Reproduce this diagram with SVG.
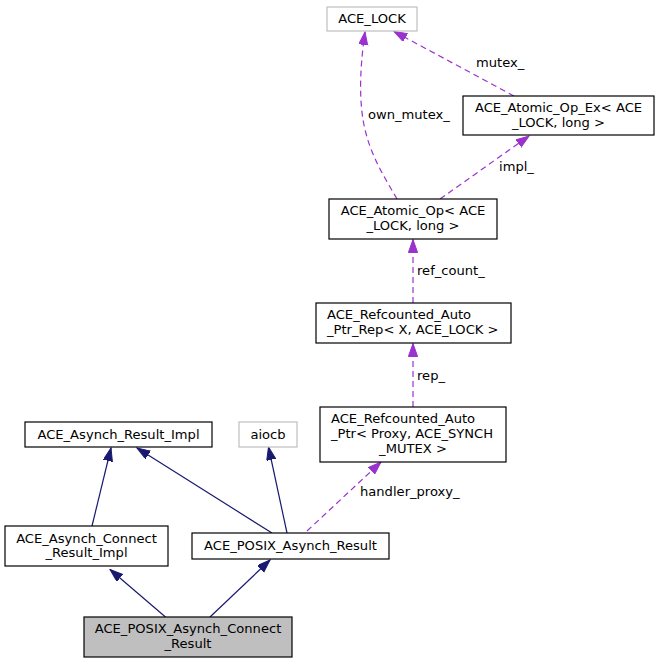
<svg xmlns="http://www.w3.org/2000/svg" width="659" height="663" viewBox="0 0 659 663">
<style>
.n rect{fill:#ffffff;stroke:#000000;stroke-width:1.2}
.g rect{fill:#ffffff;stroke:#bfbfbf;stroke-width:1.2}
.m rect{fill:#bfbfbf;stroke:#000000;stroke-width:1.2}
text{font-family:"DejaVu Sans","Liberation Sans",sans-serif;font-size:13.1px;fill:#000000}
.c{text-anchor:middle}
.inh{fill:none;stroke:#191970;stroke-width:1.2}
.use{fill:none;stroke:#9a32cd;stroke-width:1.2;stroke-dasharray:6,4}
</style>
<defs>
<marker id="ah" markerUnits="userSpaceOnUse" markerWidth="14" markerHeight="10" refX="13" refY="4.6" orient="auto">
<path d="M0,0 L13,4.6 L0,9.2 Z" fill="#191970" stroke="#191970" stroke-width="1"/>
</marker>
<marker id="ap" markerUnits="userSpaceOnUse" markerWidth="14" markerHeight="10" refX="13" refY="4.6" orient="auto">
<path d="M0,0 L13,4.6 L0,9.2 Z" fill="#9a32cd" stroke="#9a32cd" stroke-width="1"/>
</marker>
</defs>
<rect width="659" height="663" fill="#ffffff"/>
<g id="connectors">
<path class="inh" d="M92,526 L111,448" marker-end="url(#ah)"/>
<path class="inh" d="M272,533 L137,448" marker-end="url(#ah)"/>
<path class="inh" d="M287,533 L268.5,447" marker-end="url(#ah)"/>
<path class="inh" d="M165.5,617 L110,569.5" marker-end="url(#ah)"/>
<path class="inh" d="M210,617 L270,560" marker-end="url(#ah)"/>
<path class="use" d="M307,531 L381,462" marker-end="url(#ap)"/>
<text x="360" y="496">handler_proxy_</text>
<path class="use" d="M413,407 L413,343.5" marker-end="url(#ap)"/>
<text x="417" y="380">rep_</text>
<path class="use" d="M413,303 L413,239.5" marker-end="url(#ap)"/>
<text x="417" y="275">ref_count_</text>
<path class="use" d="M440,199 L529,136" marker-end="url(#ap)"/>
<text x="499" y="171">impl_</text>
<path class="use" d="M397,199 C385,178 370,155 364,125 C358,95 361,60 365,32" marker-end="url(#ap)"/>
<text x="368" y="119">own_mutex_</text>
<path class="use" d="M514,96 L394,31.5" marker-end="url(#ap)"/>
<text x="476" y="67">mutex_</text>
</g>
<g id="ACE_LOCK" class="g"><rect x="327" y="7" width="90" height="24"/><text class="c" x="372" y="23">ACE_LOCK</text></g>
<g id="ACE_Atomic_Op_Ex" class="n"><rect x="463" y="96" width="191" height="39"/><text class="c" x="558.5" y="112">ACE_Atomic_Op_Ex&lt; ACE</text><text class="c" x="558.5" y="126.5">_LOCK, long &gt;</text></g>
<g id="ACE_Atomic_Op" class="n"><rect x="329" y="199" width="168" height="40"/><text class="c" x="413" y="215">ACE_Atomic_Op&lt; ACE</text><text class="c" x="413" y="230">_LOCK, long &gt;</text></g>
<g id="ACE_Refcounted_Auto_Ptr_Rep" class="n"><rect x="316" y="303" width="195" height="40"/><text x="327" y="319">ACE_Refcounted_Auto</text><text x="327" y="334">_Ptr_Rep&lt; X, ACE_LOCK &gt;</text></g>
<g id="ACE_Refcounted_Auto_Ptr" class="n"><rect x="320" y="407" width="186" height="55"/><text x="331" y="423">ACE_Refcounted_Auto</text><text x="331" y="438">_Ptr&lt; Proxy, ACE_SYNCH</text><text class="c" x="413" y="453">_MUTEX &gt;</text></g>
<g id="ACE_Asynch_Result_Impl" class="n"><rect x="25" y="422" width="187" height="25"/><text class="c" x="118.5" y="439">ACE_Asynch_Result_Impl</text></g>
<g id="aiocb" class="g"><rect x="239" y="422" width="58" height="25"/><text class="c" x="268" y="439">aiocb</text></g>
<g id="ACE_Asynch_Connect_Result_Impl" class="n"><rect x="5" y="526" width="163" height="40"/><text class="c" x="86.5" y="542.5">ACE_Asynch_Connect</text><text class="c" x="86.5" y="557">_Result_Impl</text></g>
<g id="ACE_POSIX_Asynch_Result" class="n"><rect x="192" y="533" width="197" height="26"/><text class="c" x="290.5" y="550">ACE_POSIX_Asynch_Result</text></g>
<g id="ACE_POSIX_Asynch_Connect_Result" class="m"><rect x="84" y="617" width="208" height="40"/><text class="c" x="188" y="633">ACE_POSIX_Asynch_Connect</text><text class="c" x="188" y="647.5">_Result</text></g>
</svg>
